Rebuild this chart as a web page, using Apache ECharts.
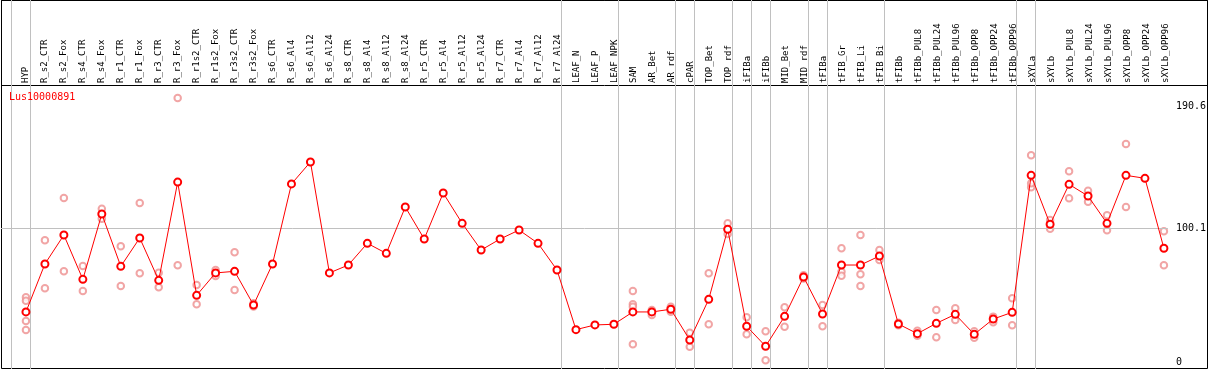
<!DOCTYPE html>
<html>
<head>
<meta charset="utf-8">
<script src="https://cdn.jsdelivr.net/npm/echarts@6/dist/echarts.min.js"></script>
<style>html,body{margin:0;padding:0;background:#fff}#chart{width:1209px;height:370px}</style>
</head>
<body>
<div id="chart"></div>
<script>
const geneName = 'Lus10000891';
const categories = ['HYP','R_s2_CTR','R_s2_Fox','R_s4_CTR','R_s4_Fox','R_r1_CTR','R_r1_Fox','R_r3_CTR','R_r3_Fox','R_r1s2_CTR','R_r1s2_Fox','R_r3s2_CTR','R_r3s2_Fox','R_s6_CTR','R_s6_Al4','R_s6_Al12','R_s6_Al24','R_s8_CTR','R_s8_Al4','R_s8_Al12','R_s8_Al24','R_r5_CTR','R_r5_Al4','R_r5_Al12','R_r5_Al24','R_r7_CTR','R_r7_Al4','R_r7_Al12','R_r7_Al24','LEAF_N','LEAF_P','LEAF_NPK','SAM','AR_Bet','AR_rdf','cPAR','TOP_Bet','TOP_rdf','iFIBa','iFIBb','MID_Bet','MID_rdf','tFIBa','tFIB_Gr','tFIB_Li','tFIB_Bi','tFIBb','tFIBb_PUL8','tFIBb_PUL24','tFIBb_PUL96','tFIBb_OPP8','tFIBb_OPP24','tFIBb_OPP96','sXYLa','sXYLb','sXYLb_PUL8','sXYLb_PUL24','sXYLb_PUL96','sXYLb_OPP8','sXYLb_OPP24','sXYLb_OPP96'];
const meanValues = [37.5,73.3,94.9,61.8,110.6,71.5,92.7,61.1,134.4,49.9,66.6,67.8,42.7,73.3,133.0,149.4,66.6,72.5,88.7,81.2,115.8,91.9,126.2,103.6,83.7,91.9,98.6,88.7,68.8,24.3,27.8,28.3,37.5,37.5,39.5,16.6,46.9,99.2,26.8,11.9,34.2,63.6,36.0,72.5,72.5,79.2,28.5,21.3,29.0,35.7,20.8,32.2,37.2,139.4,102.9,132.7,124.0,103.6,139.4,137.2,85.0];
const rep1 = [48.4,90.9,122.5,71.8,114.5,86.5,118.8,66.8,197.1,57.6,68.8,82.0,44.0,null,null,null,null,null,null,null,null,null,null,null,null,null,null,null,null,null,null,null,53.1,38.9,41.4,22.0,66.3,103.6,33.5,23.1,41.0,64.8,42.7,85.0,94.9,83.7,29.5,23.5,38.9,40.2,23.1,34.0,47.7,154.4,106.1,142.4,128.0,109.6,162.8,null,97.7];
const rep2 = [24.0,55.1,67.8,53.1,107.1,56.9,66.3,55.9,72.3,43.2,64.3,53.9,41.5,null,null,null,null,null,null,null,null,null,null,null,null,null,null,null,null,null,null,null,13.4,35.2,37.7,11.6,28.3,95.6,20.8,1.4,26.5,62.4,26.8,67.5,56.9,76.3,27.5,19.8,18.6,31.5,18.3,29.8,27.5,130.5,99.6,122.3,119.8,98.4,115.8,null,72.3];
const rep3 = [45.9,null,null,null,null,null,null,null,null,null,null,null,null,null,null,null,null,null,null,null,null,null,null,null,null,null,null,null,null,null,null,null,43.2,null,null,null,null,null,null,null,null,null,null,64.5,65.6,null,null,null,null,null,null,null,null,133.5,null,null,null,null,null,null,null];
const rep4 = [30.7,null,null,null,null,null,null,null,null,null,null,null,null,null,null,null,null,null,null,null,null,null,null,null,null,null,null,null,null,null,null,null,41.4,null,null,null,null,null,null,null,null,null,null,null,null,null,null,null,null,null,null,null,null,null,null,null,null,null,null,null,null];
const groupEnds = [-1,0,28,31,34,35,37,38,39,41,42,45,52,53,60];
const yTickValues = [0,100.1,190.6];

const MONO = '"DejaVu Sans Mono", "Liberation Mono", monospace';
const PX = 19;            // px per category
const FIRST_X = 26;       // centre of first category
const PLOT_L = 1, PLOT_R = 1170, PLOT_T = 0, PLOT_B = 369;
const Y0 = 362.2, PXU = 1.3403; // y pixel of 0, px per unit
const xMin = (PLOT_L - FIRST_X) / PX, xMax = (PLOT_R - FIRST_X) / PX;
const yMin = (Y0 - PLOT_B) / PXU, yMax = (Y0 - PLOT_T) / PXU;
const sepOffset = 4.5 / PX;

function pts(arr){ const out=[]; arr.forEach((v,i)=>{ if(v!==null) out.push([i,v]); }); return out; }
const faint = '#ee8f8f';
function repSeries(arr){
  return {type:'scatter', xAxisIndex:0, yAxisIndex:0, data:pts(arr), symbol:'emptyCircle', symbolSize:6.5,
    itemStyle:{color:faint, borderColor:faint, borderWidth:1.5}, silent:true, z:3};
}

const chart = echarts.init(document.getElementById('chart'), null, {renderer:'canvas'});
chart.setOption({
  animation:false,
  backgroundColor:'#fff',
  title:{text:geneName, left:9, top:92, padding:0, textStyle:{color:'#ff0000', fontSize:10, fontWeight:'normal', fontFamily:MONO}},
  grid:[
    {left:PLOT_L, right:1209-PLOT_R, top:PLOT_T, bottom:370-PLOT_B, show:false},
    {left:1.5, right:1.5, top:0.5, bottom:1.5, show:true, borderColor:'#000', borderWidth:1, backgroundColor:'transparent'},
    {left:1.5, right:1.5, top:0.5, height:85, show:true, borderColor:'#000', borderWidth:1, backgroundColor:'transparent'},
    {left:FIRST_X - PX/2, width:PX*categories.length, top:85, height:280, show:false}
  ],
  xAxis:[
    {type:'value', gridIndex:0, min:xMin, max:xMax, show:false},
    {type:'value', gridIndex:1, show:false},
    {type:'value', gridIndex:2, show:false},
    {type:'category', gridIndex:3, data:categories, position:'top', boundaryGap:true,
      axisLine:{show:false}, axisTick:{show:false}, splitLine:{show:false},
      axisLabel:{interval:0, rotate:90, margin:2, fontSize:9, fontFamily:MONO, color:'#000'}}
  ],
  yAxis:[
    {type:'value', gridIndex:0, min:yMin, max:yMax, position:'right',
      axisLine:{show:false}, axisTick:{show:false}, splitLine:{show:false},
      axisLabel:{customValues:yTickValues, margin:8, fontSize:10, fontFamily:MONO, color:'#000', formatter:v=>String(v)}},
    {type:'value', gridIndex:1, show:false},
    {type:'value', gridIndex:2, show:false},
    {type:'value', gridIndex:3, show:false}
  ],
  series:[
    {type:'line', xAxisIndex:0, yAxisIndex:0, data:[], silent:true,
      markLine:{silent:true, symbol:'none', label:{show:false}, emphasis:{disabled:true},
        lineStyle:{color:'#c0c0c0', width:1, type:'solid'},
        data:groupEnds.map(i=>({xAxis:i+sepOffset})).concat([{yAxis:yTickValues[1]}])}},
    repSeries(rep1), repSeries(rep2), repSeries(rep3), repSeries(rep4),
    {type:'line', xAxisIndex:0, yAxisIndex:0, data:meanValues.map((v,i)=>[i,v]), silent:true,
      symbol:'emptyCircle', symbolSize:7, lineStyle:{color:'#ff0000', width:1},
      itemStyle:{color:'#ff0000', borderColor:'#ff0000', borderWidth:2}, z:5}
  ]
});
</script>
</body>
</html>
